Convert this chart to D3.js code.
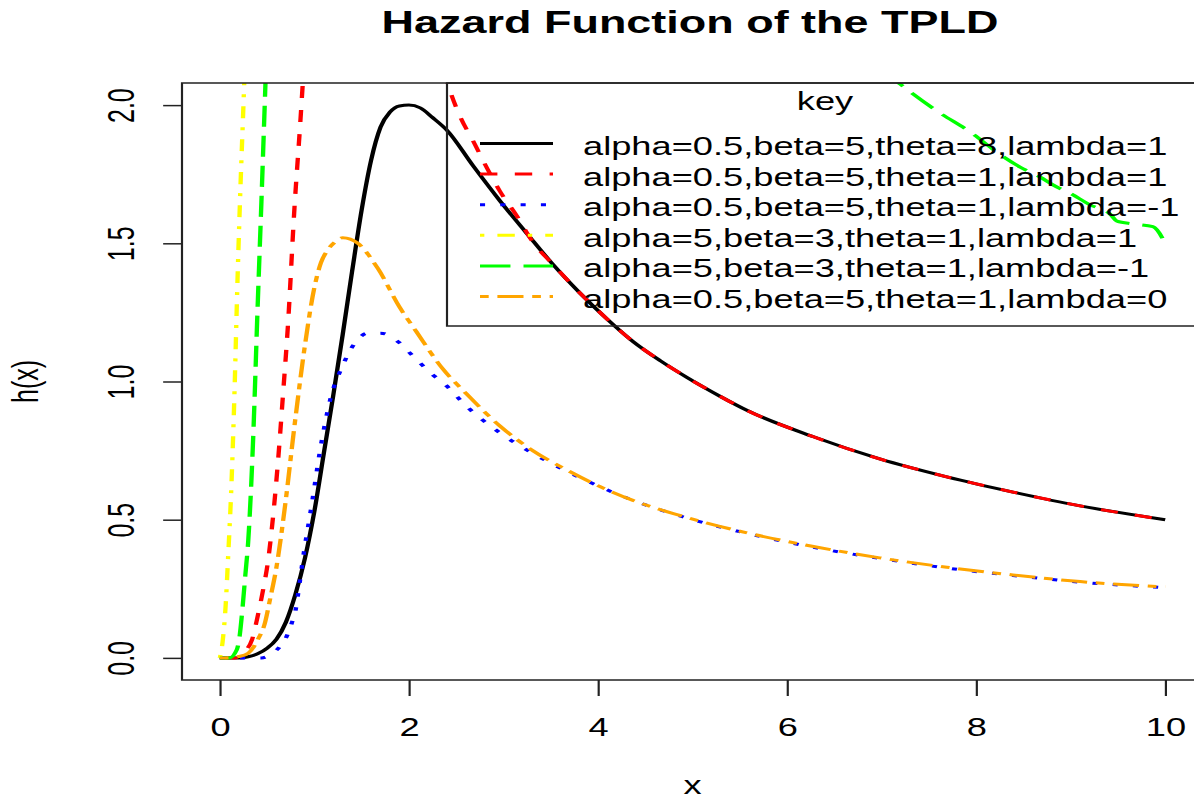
<!DOCTYPE html>
<html>
<head>
<meta charset="utf-8">
<script src="https://cdn.jsdelivr.net/npm/d3@7"></script>
<style>
  body { margin: 0; background: #fff; }
  text { font-family: "Liberation Sans", Arial, sans-serif; fill: #000; }
</style>
</head>
<body>
<svg id="chart"></svg>
<script>
// values
const xTicks = [0, 2, 4, 6, 8, 10];
const yTicks = [0, 0.5, 1, 1.5, 2];

const seriesLabels = [
  "alpha=0.5,beta=5,theta=8,lambda=1",
  "alpha=0.5,beta=5,theta=1,lambda=1",
  "alpha=0.5,beta=5,theta=1,lambda=-1",
  "alpha=5,beta=3,theta=1,lambda=1",
  "alpha=5,beta=3,theta=1,lambda=-1",
  "alpha=0.5,beta=5,theta=1,lambda=0"
];

const hBlack = [[0,0],[0.2,0],[0.3,0.004],[0.4,0.015],[0.5,0.035],[0.6,0.068],[0.7,0.13],[0.8,0.23],
  [0.9,0.36],[1.0,0.53],[1.1,0.74],[1.2,0.95],[1.3,1.17],[1.4,1.40],[1.5,1.62],[1.6,1.80],[1.7,1.92],
  [1.8,1.975],[1.9,1.997],[2.0,2.0],[2.12,1.99],[2.25,1.955],[2.4,1.91],[2.68,1.78],[2.96,1.655],
  [3.25,1.535],[3.52,1.425],[3.81,1.32],[4.1,1.225],[4.37,1.145],[4.66,1.075],[4.94,1.015],[5.3,0.945],
  [5.58,0.895],[6.28,0.80],[6.98,0.72],[7.69,0.655],[8.39,0.60],[9.1,0.55],[10,0.50]];

const hRed = [[0,0],[0.16,0],[0.25,0.02],[0.34,0.065],[0.40,0.15],[0.46,0.25],[0.51,0.35],[0.56,0.5],
  [0.62,0.73],[0.67,0.96],[0.72,1.2],[0.79,1.63],[0.85,1.93],[0.9,2.2],[1.0,2.7],[1.3,3.3],[1.7,3.2],
  [2.0,2.8],[2.2,2.4],[2.4,2.09],[2.54,1.96],[2.68,1.87],[2.83,1.77],[2.96,1.69],[3.14,1.60],[3.31,1.505],
  [3.52,1.425],[3.81,1.32],[4.1,1.225],[4.37,1.145],[4.66,1.075],[4.94,1.015],[5.3,0.945],[5.58,0.895],
  [6.28,0.80],[6.98,0.72],[7.69,0.655],[8.39,0.60],[9.1,0.55],[10,0.50]];

const hBlue = [[0,0],[0.23,0],[0.44,0],[0.55,0.015],[0.62,0.035],[0.71,0.08],[0.76,0.125],[0.80,0.17],
  [0.84,0.26],[0.88,0.36],[0.97,0.55],[1.07,0.77],[1.18,0.95],[1.29,1.05],[1.43,1.14],[1.57,1.175],
  [1.7,1.175],[1.9,1.14],[2.02,1.10],[2.25,1.025],[2.38,0.99],[2.61,0.91],[2.96,0.815],[3.31,0.74],
  [3.67,0.675],[3.95,0.63],[4.37,0.57],[4.9,0.51],[5.58,0.45],[6.28,0.40],[6.98,0.36],[7.69,0.325],
  [8.39,0.298],[9.1,0.274],[10,0.254]];

const hYellow = [[0,0],[0.03,0.06],[0.06,0.18],[0.09,0.38],[0.12,0.6],[0.15,0.9],[0.19,1.40],[0.22,1.72],
  [0.25,2.0],[0.28,2.3],[0.32,2.8],[0.4,3.6]];

const hGreen = [[0,0],[0.1,0],[0.18,0.03],[0.21,0.08],[0.24,0.18],[0.27,0.3],[0.30,0.42],[0.35,0.77],
  [0.40,1.27],[0.44,1.65],[0.48,2.05],[0.52,2.45],[0.6,3.1],[0.8,3.9],[1.2,4.3],[2,4.1],[3,3.6],[4,3.15],
  [5,2.75],[6,2.42],[6.7,2.22],[7.2,2.075],[7.58,1.98],[7.97,1.895],[8.25,1.822],[8.47,1.775],[8.68,1.739],
  [8.82,1.71],[9.0,1.68],[9.2,1.64],[9.42,1.605],[9.49,1.58],[9.66,1.57],[9.87,1.56],[10,1.50]];

const hOrange = [[0,0],[0.07,0],[0.2,0.005],[0.30,0.017],[0.40,0.065],[0.48,0.13],[0.53,0.21],[0.60,0.33],
  [0.69,0.55],[0.79,0.84],[0.90,1.13],[1.0,1.34],[1.07,1.43],[1.14,1.475],[1.22,1.505],[1.30,1.52],
  [1.38,1.515],[1.46,1.50],[1.67,1.41],[1.90,1.27],[2.08,1.18],[2.36,1.045],[2.61,0.955],[2.96,0.84],
  [3.31,0.75],[3.67,0.68],[4.02,0.62],[4.37,0.57],[4.9,0.512],[5.58,0.452],[6.28,0.403],[6.98,0.362],
  [7.69,0.328],[8.39,0.30],[9.1,0.276],[10,0.257]];

const colors = ["#000000", "#ff0000", "#0000ff", "#ffff00", "#00ff00", "#ffa500"];
const dashes = [null, "12 12", "3.5 10.5", "3 9 12 9", "21 9", "6 6 18 6"];

const series = [hBlack, hRed, hBlue, hYellow, hGreen, hOrange].map((d, i) => ({
  label: seriesLabels[i], color: colors[i], dash: dashes[i], data: d
}));

const width = 1194;
const height = 801;
const sx = 1.45; // the whole picture is stretched sideways

const svg = d3.select("#chart")
  .attr("width", width)
  .attr("height", height);

const root = svg.append("g").attr("transform", `scale(${sx},1)`);

const x = d3.scaleLinear().domain([-0.4, 10.4]).range([182 / sx, 1203 / sx]);
const y = d3.scaleLinear().domain([-0.08, 2.08]).range([680, 83]);

const plotLeft = x(-0.4), plotRight = x(10.4), plotTop = y(2.08), plotBottom = y(-0.08);

root.append("clipPath").attr("id", "plot-clip")
  .append("rect")
  .attr("x", plotLeft).attr("y", plotTop)
  .attr("width", plotRight - plotLeft).attr("height", plotBottom - plotTop);

// curves
const line = d3.line()
  .x(d => x(d[0]))
  .y(d => y(d[1]))
  .curve(d3.curveMonotoneX);

root.append("g")
  .attr("clip-path", "url(#plot-clip)")
  .selectAll("path")
  .data(series)
  .enter().append("path")
  .attr("d", d => line(d.data))
  .attr("fill", "none")
  .attr("stroke", d => d.color)
  .attr("stroke-width", 3)
  .attr("stroke-dasharray", d => d.dash)
  .attr("stroke-linejoin", "round");

// axes
const xAxis = root.append("g")
  .attr("transform", `translate(0,${plotBottom})`)
  .call(d3.axisBottom(x).tickValues(xTicks).tickSize(16).tickFormat(d3.format("d")));
xAxis.select(".domain").remove();
xAxis.selectAll("line").attr("stroke", "#222").attr("stroke-width", 1.5);
xAxis.selectAll("text")
  .attr("y", 56).attr("dy", 0)
  .attr("font-size", 25);

const yAxis = root.append("g")
  .attr("transform", `translate(${plotLeft},0)`)
  .call(d3.axisLeft(y).tickValues(yTicks).tickSize(13).tickFormat(d3.format(".1f")));
yAxis.select(".domain").remove();
yAxis.selectAll("line").attr("stroke", "#222").attr("stroke-width", 1.5);
yAxis.selectAll("text")
  .attr("x", 0).attr("dy", 0)
  .attr("text-anchor", "middle")
  .attr("font-size", 25)
  .attr("transform", `translate(${134 / sx - plotLeft},0) rotate(-90)`);

// frame
root.append("rect")
  .attr("x", plotLeft).attr("y", plotTop)
  .attr("width", plotRight - plotLeft).attr("height", plotBottom - plotTop)
  .attr("fill", "none")
  .attr("stroke", "#222")
  .attr("stroke-width", 1.5);

// titles
root.append("text")
  .attr("x", 690 / sx).attr("y", 33)
  .attr("text-anchor", "middle")
  .attr("font-size", 31)
  .attr("font-weight", "bold")
  .text("Hazard Function of the TPLD");

root.append("text")
  .attr("x", (plotLeft + plotRight) / 2).attr("y", 794)
  .attr("text-anchor", "middle")
  .attr("font-size", 25)
  .text("x");

root.append("text")
  .attr("transform", `translate(${38 / sx},${y(1)}) rotate(-90)`)
  .attr("text-anchor", "middle")
  .attr("font-size", 25)
  .text("h(x)");

// legend
const legLeft = 447 / sx;
const legBottom = 326;
const rowY0 = 143.5, rowDy = 30.6;

const legend = root.append("g");
legend.append("rect")
  .attr("x", legLeft).attr("y", plotTop)
  .attr("width", plotRight - legLeft).attr("height", legBottom - plotTop)
  .attr("fill", "none")
  .attr("stroke", "#222")
  .attr("stroke-width", 1.5);

legend.append("text")
  .attr("x", (legLeft + plotRight) / 2).attr("y", 110)
  .attr("text-anchor", "middle")
  .attr("font-size", 25)
  .text("key");

const rows = legend.selectAll(".row")
  .data(series)
  .enter().append("g")
  .attr("class", "row")
  .attr("transform", (d, i) => `translate(0,${rowY0 + i * rowDy})`);

rows.append("line")
  .attr("x1", 480 / sx).attr("x2", 553 / sx)
  .attr("stroke", d => d.color)
  .attr("stroke-width", 3)
  .attr("stroke-dasharray", d => d.dash);

rows.append("text")
  .attr("x", 583 / sx).attr("y", 11.5)
  .attr("font-size", 25)
  .text(d => d.label);
</script>
</body>
</html>
